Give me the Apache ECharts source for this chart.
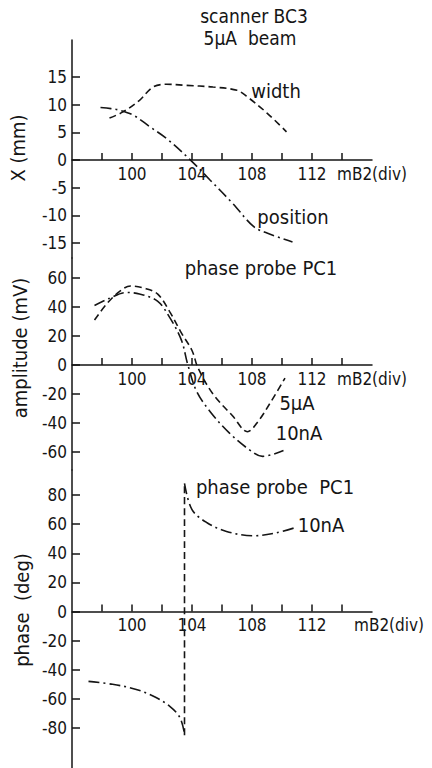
<!DOCTYPE html>
<html>
<head>
<meta charset="utf-8">
<script src="https://cdn.jsdelivr.net/npm/echarts@6/dist/echarts.min.js"></script>
<style>
	html, body { margin: 0; padding: 0; background: #fff; }
	#chart { width: 432px; height: 768px; }
</style>
</head>
<body>
<div id="chart"></div>
<script>
'use strict'
/*----data----*/
var xTicks = [98, 100, 102, 104, 106, 108, 110, 112, 114];
var xLabels = [100, 104, 108, 112];
var xTicksMm = [-15, -10, -5, 0, 5, 10, 15];
var ampTicks = [-60, -40, -20, 0, 20, 40, 60];
var phaseTicks = [-80, -60, -40, -20, 0, 20, 40, 60, 80];

// scanner BC3 (mm)
var widthData = [[98.5, 7.6], [99.4, 8.7], [100.5, 10.8], [101.4, 13.2], [102.3, 13.7], [103.6, 13.5],
	[105.4, 13.2], [107, 12.6], [107.7, 11.4], [109, 8.5], [110.3, 5.1]];
var positionData = [[97.9, 9.5], [98.6, 9.3], [99.2, 9.0], [100.1, 8.1], [101.2, 6.0], [102.3, 3.9],
	[103.9, 0], [105.2, -3.6], [106.7, -7.8], [108.1, -12.0], [109, -13.2], [110.7, -14.8]];

// phase probe PC1 amplitude (mV)
var amp5uA = [[97.5, 31], [98.3, 42], [99.2, 51], [99.9, 54.5], [100.8, 53], [101.7, 49], [102.5, 37],
	[103.3, 22], [104, 10], [104.4, -2], [105.4, -20], [106.7, -35], [107.7, -46], [108.4, -39],
	[109.4, -23], [110.2, -9]];
var amp10nA = [[97.5, 41], [98.5, 46], [99.6, 50], [100.5, 49], [101.7, 44], [102.5, 33], [103.3, 17],
	[103.7, 1], [104.3, -18], [105.2, -32], [106.5, -47], [107.9, -59], [108.7, -63], [110.1, -59]];

// phase probe PC1 phase (deg)
var phaseLow = [[97.1, -48], [98.7, -50], [100.1, -53], [101.4, -58], [102.5, -65], [103.2, -73], [103.5, -84]];
var phaseJump = [[103.5, -85], [103.5, 88]];
var phaseHigh = [[103.5, 88], [104, 70], [105, 61], [106.3, 55], [108.1, 52], [109.6, 54], [111, 58]];

var FONT = "'Liberation Sans Narrow', 'DejaVu Sans Condensed', Roboto, sans-serif";
var INK = '#151515';
var DASH = [7, 4];
var DASHDOT = [11, 4, 2, 4];

// zero line of each panel sits this far above the grid bottom
function xAxisFor(i, lift) {
	return {
		type: 'value',
		gridIndex: i,
		min: 96,
		max: 116,
		position: 'bottom',
		offset: -lift,
		name: 'mB2(div)',
		nameLocation: 'end',
		nameGap: i === 2 ? -18 : -35,
		nameTextStyle: {
			color: INK,
			fontSize: 17,
			fontFamily: FONT,
			verticalAlign: 'top',
			padding: [5, 0, 0, 0]
		},
		axisLine: { onZero: false, lineStyle: { color: INK, width: 1.5 } },
		axisTick: { inside: true, length: 7, customValues: xTicks, lineStyle: { color: INK, width: 1.5 } },
		axisLabel: { customValues: xLabels, color: INK, fontSize: 17, fontFamily: FONT, margin: 5 },
		splitLine: { show: false }
	};
}

function yAxisFor(i, min, max, ticks) {
	return {
		type: 'value',
		gridIndex: i,
		min: min,
		max: max,
		axisLine: { show: true, lineStyle: { color: INK, width: 1.5 } },
		axisTick: { show: true, inside: true, length: 8, customValues: ticks, lineStyle: { color: INK, width: 1.5 } },
		axisLabel: { customValues: ticks, color: INK, fontSize: 17, fontFamily: FONT, margin: 5 },
		splitLine: { show: false }
	};
}

function line(name, data, i, dash) {
	return {
		name: name,
		type: 'line',
		xAxisIndex: i,
		yAxisIndex: i,
		data: data,
		smooth: 0.35,
		showSymbol: false,
		silent: true,
		lineStyle: { color: INK, width: 1.6, type: dash }
	};
}

function txt(s, x, y, size, rot) {
	return {
		type: 'text',
		x: x,
		y: y,
		rotation: rot || 0,
		silent: true,
		style: {
			text: s,
			fill: INK,
			fontSize: size || 20,
			fontFamily: FONT,
			align: 'center',
			verticalAlign: 'middle',
			textAlign: 'center',
			textVerticalAlign: 'middle'
		}
	};
}

var chart = echarts.init(document.getElementById('chart'), null, { renderer: 'svg' });
var option = {
	backgroundColor: '#fff',
	animation: false,
	grid: [
		{ left: 72, right: 60, top: 40, height: 218 },
		{ left: 72, right: 60, top: 258, height: 212 },
		{ left: 72, right: 60, top: 470, height: 298 }
	],
	xAxis: [xAxisFor(0, 98), xAxisFor(1, 105), xAxisFor(2, 156.5)],
	yAxis: [
		yAxisFor(0, -17.7, 21.7, xTicksMm),
		yAxisFor(1, -72.4, 73.8, ampTicks),
		yAxisFor(2, -107.5, 97.2, phaseTicks)
	],
	series: [
		line('width', widthData, 0, DASH),
		line('position', positionData, 0, DASHDOT),
		line('5uA', amp5uA, 1, DASH),
		line('10nA', amp10nA, 1, DASHDOT),
		line('phase low', phaseLow, 2, DASHDOT),
		line('phase jump', phaseJump, 2, DASH),
		line('phase high', phaseHigh, 2, DASHDOT)
	],
	graphic: [
		txt('scanner BC3', 254, 16, 19),
		txt('5\u03bcA  beam', 250, 38, 19),
		txt('width', 276, 91),
		txt('position', 293, 217),
		txt('phase probe PC1', 261, 268),
		txt('5\u03bcA', 297, 403),
		txt('10nA', 299, 433),
		txt('phase probe  PC1', 275, 487),
		txt('10nA', 321, 525),
		txt('X (mm)', 18, 148, 20, Math.PI / 2),
		txt('amplitude (mV)', 20, 348, 20, Math.PI / 2),
		txt('phase  (deg)', 22, 610, 20, Math.PI / 2)
	]
};
chart.setOption(option);
</script>
</body>
</html>
